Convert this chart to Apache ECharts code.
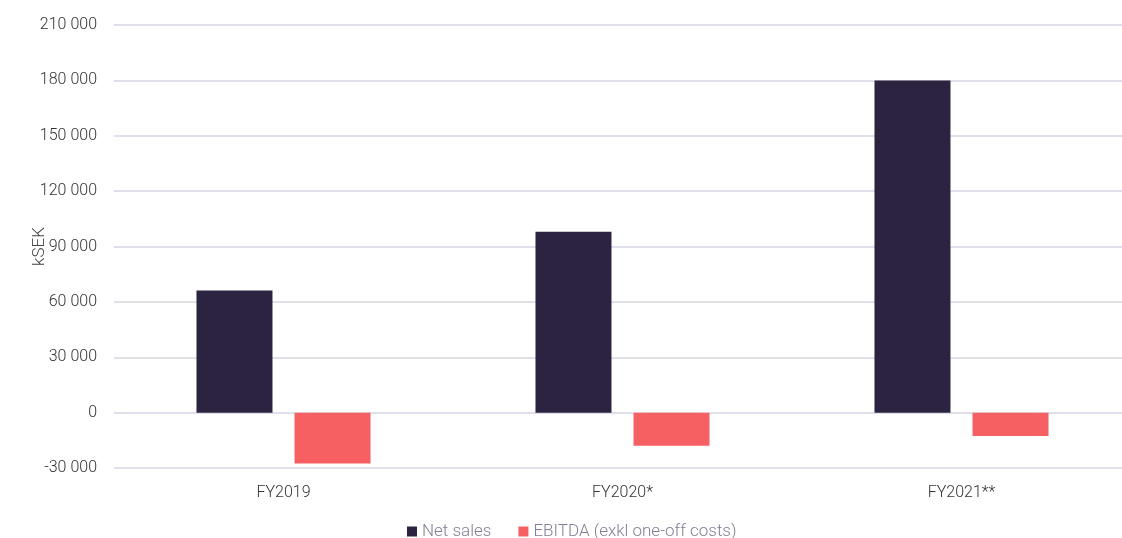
<!DOCTYPE html>
<html>
<head>
<meta charset="utf-8">
<script src="https://cdn.jsdelivr.net/npm/echarts@6/dist/echarts.min.js"></script>
<style>
html,body{margin:0;padding:0;background:#fff;}
#chart{width:1122px;height:538px;}
</style>
</head>
<body>
<div id="chart"></div>
<script>
const categories = ['FY2019', 'FY2020*', 'FY2021**'];
const netSales = [66200, 98000, 180000];
const ebitda = [-27500, -17900, -12600];
const seriesNames = ['Net sales', 'EBITDA (exkl one-off costs)'];
const yMin = -30000, yMax = 210000, yStep = 30000;

function fmt(v){
  const s = String(Math.abs(v));
  const out = s.replace(/\B(?=(\d{3})+(?!\d))/g, ' ');
  return (v < 0 ? '-' : '') + out;
}

const chart = echarts.init(document.getElementById('chart'));
chart.setOption({
  animation: false,
  backgroundColor: '#ffffff',
  textStyle: { fontFamily: 'Roboto, "Noto Sans", sans-serif' },
  grid: { left: 114, width: 1017, top: 25, height: 443, containLabel: false, outerBoundsMode: 'none' },
  legend: {
    data: seriesNames,
    top: 518,
    left: 402,
    itemWidth: 10, itemHeight: 10, itemGap: 27,
    icon: 'rect',
    textStyle: { color: '#837e97', fontSize: 17, fontWeight: 300, fontFamily: 'Roboto, "Noto Sans", sans-serif' }
  },
  xAxis: {
    type: 'category',
    data: categories,
    position: 'bottom',
    axisLine: { show: false },
    axisTick: { show: false },
    axisLabel: { color: '#333', fontSize: 16, fontWeight: 300, margin: 17 }
  },
  yAxis: {
    type: 'value',
    min: yMin, max: yMax, interval: yStep,
    name: 'kSEK',
    nameLocation: 'middle',
    nameGap: 66,
    nameMoveOverlap: false,
    nameTextStyle: { color: '#444', fontSize: 17, fontWeight: 300 },
    axisLine: { show: false },
    axisTick: { show: false },
    axisLabel: { color: '#333', fontSize: 16, fontWeight: 300, margin: 17, formatter: fmt },
    splitLine: { lineStyle: { color: '#d6d4e4', width: 1.5 } }
  },
  series: [
    { name: seriesNames[0], type: 'bar', data: netSales, barWidth: 76, barGap: '29%',
      itemStyle: { color: '#2c2341' } },
    { name: seriesNames[1], type: 'bar', data: ebitda, barWidth: 76,
      itemStyle: { color: '#f76063' } }
  ]
});
</script>
</body>
</html>
